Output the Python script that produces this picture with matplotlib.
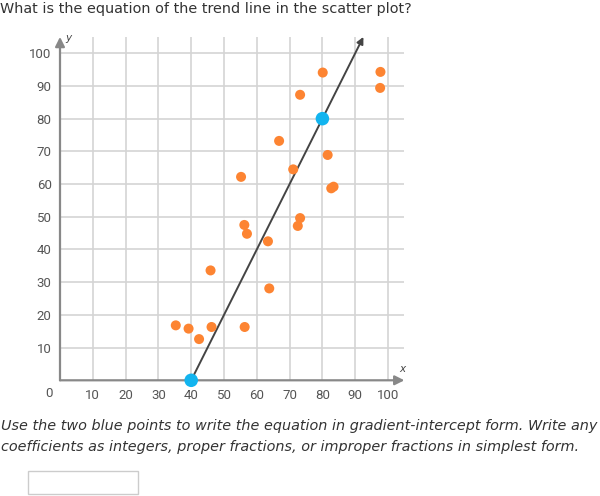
import matplotlib
matplotlib.use("Agg")
import matplotlib.pyplot as plt
from matplotlib.patches import Rectangle

# Data
orange_x = [80.1, 97.7, 97.6, 73.2, 66.8, 81.6, 71.1, 55.2, 82.7, 83.4,
            73.2, 72.5, 56.2, 57.0, 63.4, 45.9, 63.8, 46.2, 56.3,
            35.3, 39.2, 42.4]
orange_y = [94.1, 94.3, 89.4, 87.3, 73.2, 68.9, 64.5, 62.2, 58.7, 59.2,
            49.6, 47.2, 47.5, 44.8, 42.5, 33.6, 28.1, 16.3, 16.3,
            16.8, 15.8, 12.6]
blue_x = [40, 80]
blue_y = [0, 80]
tick_vals = [10, 20, 30, 40, 50, 60, 70, 80, 90, 100]
tick_labels = [str(v) for v in tick_vals]
axis_max = 105

title = "What is the equation of the trend line in the scatter plot?"
instr1 = "Use the two blue points to write the equation in gradient-intercept form. Write any"
instr2 = "coefficients as integers, proper fractions, or improper fractions in simplest form."

fig = plt.figure(figsize=(6, 4.96), dpi=100)
ax = fig.add_axes([0.1, (496 - 380.3) / 496, 344.4 / 600, 343.4 / 496])
ax.set_xlim(0, axis_max)
ax.set_ylim(0, axis_max)
for s in ax.spines.values():
    s.set_visible(False)
ax.set_xticks(tick_vals)
ax.set_yticks(tick_vals)
ax.set_xticklabels(tick_labels, fontfamily="Roboto", fontsize=9.5, color="#555555")
ax.set_yticklabels(tick_labels, fontfamily="Roboto", fontsize=9.5, color="#555555")
ax.tick_params(length=0, pad=6)
ax.grid(True, color="#d4d4d4", linewidth=1.2)
ax.set_axisbelow(True)

# axes with arrows
ax.annotate("", xy=(axis_max, 0), xytext=(0, 0),
            arrowprops=dict(arrowstyle="-|>", color="#888888", lw=1.6,
                            mutation_scale=14, shrinkA=0, shrinkB=0),
            annotation_clip=False, zorder=3)
ax.annotate("", xy=(0, axis_max), xytext=(0, 0),
            arrowprops=dict(arrowstyle="-|>", color="#888888", lw=1.6,
                            mutation_scale=14, shrinkA=0, shrinkB=0),
            annotation_clip=False, zorder=3)
ax.text(-2.2, -4, "0", ha="right", va="center", fontfamily="Roboto",
        fontsize=9.5, color="#555555")
ax.text(2.6, 104.8, "y", ha="center", va="center", fontstyle="italic",
        fontsize=7.5, color="#444444")
ax.text(104.4, 3.4, "x", ha="center", va="center", fontstyle="italic",
        fontsize=7.5, color="#444444")

# trend line through the blue points, extended to top
slope = (blue_y[1] - blue_y[0]) / (blue_x[1] - blue_x[0])
x_end = blue_x[0] + (axis_max - blue_y[0]) / slope
ax.annotate("", xy=(x_end, axis_max), xytext=(blue_x[0], blue_y[0]),
            arrowprops=dict(arrowstyle="-|>", color="#444444", lw=1.4,
                            mutation_scale=10, shrinkA=0, shrinkB=0),
            annotation_clip=False, zorder=4)

ax.scatter(orange_x, orange_y, s=52, color="#fd8432", edgecolors="none",
           zorder=5, clip_on=False)
ax.scatter(blue_x, blue_y, s=95, color="#12b4ef", edgecolors="none",
           zorder=6, clip_on=False)

fig.text(0.0, 1 - 9 / 496, title, ha="left", va="center",
         fontfamily="DejaVu Sans", fontsize=10.4, color="#333333")
fig.text(0.002, 1 - 426 / 496, instr1, ha="left", va="center",
         fontfamily="DejaVu Sans", fontstyle="italic", fontsize=10.4, color="#333333")
fig.text(0.002, 1 - 447 / 496, instr2, ha="left", va="center",
         fontfamily="DejaVu Sans", fontstyle="italic", fontsize=10.4, color="#333333")

fig.patches.append(Rectangle((28 / 600, 1 - 494 / 496), 110 / 600, 23 / 496,
                             transform=fig.transFigure, facecolor="white",
                             edgecolor="#cccccc", linewidth=1.0))

fig.savefig("out.png", dpi=100, facecolor="white")
